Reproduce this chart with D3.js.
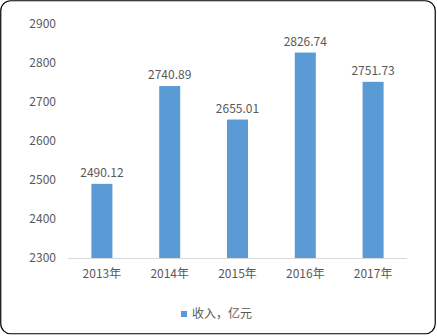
<!DOCTYPE html>
<html>
<head>
<meta charset="utf-8">
<script src="https://cdn.jsdelivr.net/npm/d3@7"></script>
<style>
  body { margin: 0; background: #fff; }
  text { font-family: "Noto Sans CJK SC", "Microsoft YaHei", sans-serif; fill: #595959; }
</style>
</head>
<body>
<div id="chart"></div>
<script>
// chart data
const years = ["2013年", "2014年", "2015年", "2016年", "2017年"];
const income = [2490.12, 2740.89, 2655.01, 2826.74, 2751.73];
const yTicks = [2300, 2400, 2500, 2600, 2700, 2800, 2900];
const seriesName = "收入，亿元";

function drawChart() {
    const W = 437, H = 336;
    const svg = d3.select('#chart').append('svg')
        .attr('width', W).attr('height', H);

    // outer rounded frame
    svg.append('rect')
        .attr('x', 0.75).attr('y', 0.75)
        .attr('width', W - 2.5).attr('height', H - 3)
        .attr('rx', 10).attr('ry', 10)
        .attr('fill', '#fff').attr('stroke', '#000').attr('stroke-width', 1.2);

    const x = d3.scaleBand().domain(years).range([68, 407]).paddingInner(0.69).paddingOuter(0.345);
    const y = d3.scaleLinear().domain([2300, 2900]).range([258, 24]);

    // y axis labels
    const yAxis = svg.append('g').attr('transform', 'translate(56,0)')
        .call(d3.axisLeft(y).tickValues(yTicks).tickFormat(d3.format('d')).tickSize(0).tickPadding(0));
    yAxis.select('.domain').remove();
    yAxis.selectAll('text').attr('font-size', 12).style('fill', '#595959')
        .style('font-family', '"Noto Sans CJK SC", sans-serif');

    // x axis
    const xAxis = svg.append('g').attr('transform', 'translate(0,258)')
        .call(d3.axisBottom(x).tickSize(0).tickPadding(11));
    xAxis.select('.domain').attr('stroke', '#d9d9d9').attr('d', 'M68,0.5H407');
    xAxis.selectAll('text').attr('font-size', 12).style('fill', '#595959')
        .style('font-family', '"Noto Sans CJK SC", sans-serif');

    // bars
    svg.selectAll('.bar').data(income).enter().append('rect')
        .attr('class', 'bar')
        .attr('x', (d, i) => x(years[i]))
        .attr('width', x.bandwidth())
        .attr('y', d => y(d))
        .attr('height', d => y(2300) - y(d))
        .attr('fill', '#5B9BD5');

    // value labels
    svg.selectAll('.lbl').data(income).enter().append('text')
        .attr('class', 'lbl')
        .attr('x', (d, i) => x(years[i]) + x.bandwidth() / 2)
        .attr('y', d => y(d) - 7)
        .attr('text-anchor', 'middle')
        .attr('font-size', 12)
        .text(d => d.toFixed(2));

    // legend
    const lg = svg.append('g').attr('transform', 'translate(181,311)');
    lg.append('rect').attr('width', 6).attr('height', 6).attr('fill', '#5B9BD5');
    lg.append('text').attr('x', 11).attr('y', 3).attr('dy', '0.35em')
        .attr('font-size', 12).text(seriesName);
}

document.addEventListener('DOMContentLoaded', drawChart);
</script>
</body>
</html>
